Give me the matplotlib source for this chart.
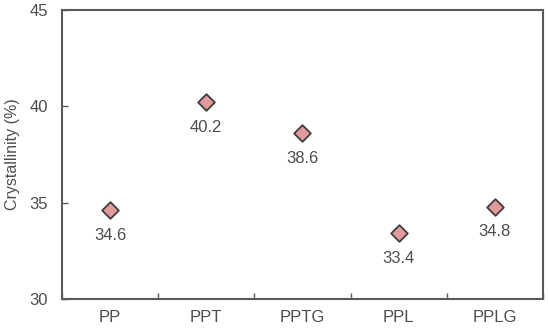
"""
结晶度散点图
"""

import matplotlib.pyplot as plt
import numpy as np

plt.rcParams['font.family'] = ['Liberation Sans', 'DejaVu Sans']

samples = ['PP', 'PPT', 'PPTG', 'PPL', 'PPLG']
crystallinity = [34.6, 40.2, 38.6, 33.4, 34.8]
y_ticks = [30, 35, 40, 45]

text_color = '#4d4d4d'
edge_color = '#5a5a5a'

fig = plt.figure(figsize=(5.48, 3.28), dpi=100)
ax = fig.add_axes([0.1131, 0.0884, 0.8778, 0.8811])

x = np.arange(len(samples))
ax.scatter(x, crystallinity, marker='D', s=72, color='#e39a9d',
           edgecolors='#3d3d3d', linewidths=1.3, zorder=3)

# 数值标签
for xi, v in zip(x, crystallinity):
    ax.annotate(f'{v:.1f}', (xi, v), xytext=(0, -12.5), textcoords='offset points',
                ha='center', va='top', fontsize=12, color=text_color)

ax.set_xlim(-0.5, len(samples) - 0.5)
ax.set_ylim(30, 45)
ax.set_yticks(y_ticks)
ax.tick_params(axis='y', direction='in', length=4, width=1, color=edge_color,
               labelsize=12, labelcolor=text_color, pad=10)

# 分类标签居中, 刻度线在类别之间
ax.set_xticks(np.arange(len(samples) + 1) - 0.5)
ax.set_xticklabels([])
ax.set_xticks(x, minor=True)
ax.set_xticklabels(samples, minor=True)
ax.tick_params(axis='x', which='major', direction='in', length=4, width=1,
               color=edge_color)
ax.tick_params(axis='x', which='minor', length=0, labelsize=12,
               labelcolor=text_color, pad=8)

for side in ax.spines.values():
    side.set_color(edge_color)
    side.set_linewidth(1.5)

ax.set_ylabel('Crystallinity (%)', fontsize=11.5, color=text_color, labelpad=7)

plt.savefig('out.png', dpi=100)
plt.close()
